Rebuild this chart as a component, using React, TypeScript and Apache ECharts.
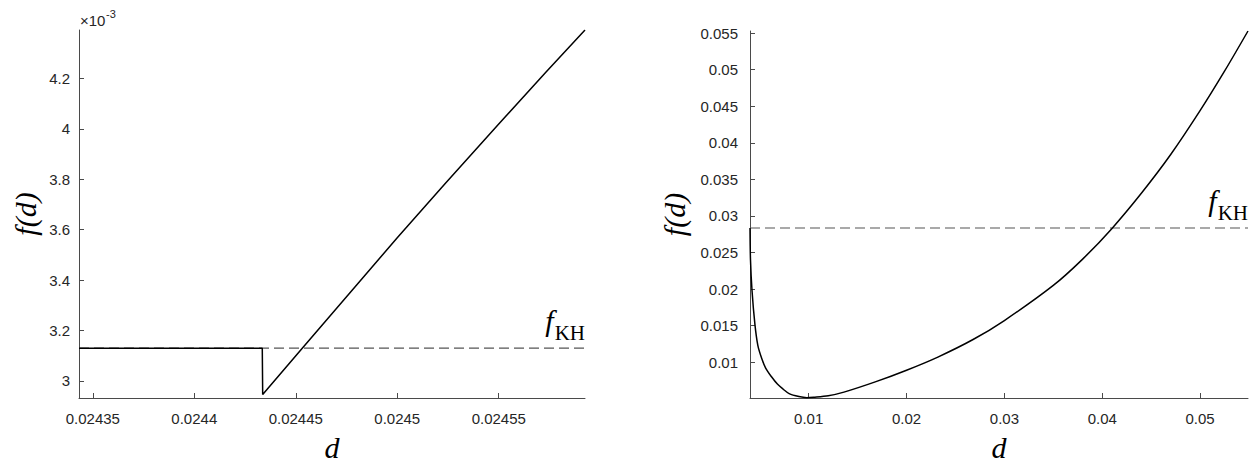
import React, { useEffect, useRef } from "react";
import * as echarts from "echarts";

// ---- Left panel data (f in absolute units; axis shows ×10^-3) ----
const leftD = [0.0243432, 0.0244335, 0.0244337, 0.0244532, 0.0245, 0.0245232, 0.02455, 0.0245732, 0.0245925];
const leftF = [0.00313, 0.00313, 0.002946, 0.00313, 0.003568, 0.003779, 0.004019, 0.004224, 0.004392];
const leftFKH = 0.00313;
const leftXRange = [0.0243432, 0.0245925];
const leftYRange = [0.0029325, 0.004392];
const leftXTicks = [0.02435, 0.0244, 0.02445, 0.0245, 0.02455];
const leftYTicks = [0.003, 0.0032, 0.0034, 0.0036, 0.0038, 0.004, 0.0042];

// ---- Right panel data ----
const rightD = [0.004, 0.00405, 0.0042, 0.0045, 0.0048, 0.0052, 0.0056, 0.0062, 0.0068, 0.0074, 0.008, 0.009, 0.0098, 0.0105, 0.012, 0.0136, 0.0168, 0.02, 0.0232, 0.0268, 0.03, 0.035, 0.038, 0.041, 0.044, 0.047, 0.05, 0.0525, 0.0549];
const rightF = [0.02835, 0.024, 0.0199, 0.0152, 0.0123, 0.0105, 0.0092, 0.008, 0.007, 0.0063, 0.0057, 0.0053, 0.00515, 0.0052, 0.0054, 0.0059, 0.0073, 0.0089, 0.0107, 0.0131, 0.0157, 0.0205, 0.0241, 0.0283, 0.0331, 0.0384, 0.0444, 0.0498, 0.0553];
const rightFKH = 0.02835;
const rightXRange = [0.004, 0.0549];
const rightYRange = [0.0051, 0.0553];
const rightXTicks = [0.01, 0.02, 0.03, 0.04, 0.05];
const rightYTicks = [0.01, 0.015, 0.02, 0.025, 0.03, 0.035, 0.04, 0.045, 0.05, 0.055];

const AXIS_COLOR = "#4a4a4a";
const LABEL_COLOR = "#262626";
const SANS = "Liberation Sans";
const SERIF = "Liberation Serif";

const fmt = (v: number) => String(parseFloat(v.toFixed(8)));
const fmtMilli = (v: number) => String(parseFloat((v * 1000).toFixed(6)));

function xAxisCfg(gridIndex: number, range: number[], ticks: number[]) {
  return {
    type: "value",
    gridIndex,
    min: range[0],
    max: range[1],
    name: "d",
    nameLocation: "middle",
    nameGap: 34,
    nameTextStyle: { fontFamily: SERIF, fontStyle: "italic", fontSize: 30, color: "#000" },
    axisLine: { show: true, lineStyle: { color: AXIS_COLOR, width: 1 } },
    axisTick: { show: true, inside: true, length: 5, customValues: ticks, lineStyle: { color: AXIS_COLOR } },
    axisLabel: {
      show: true,
      customValues: ticks,
      formatter: fmt,
      margin: 13,
      fontFamily: SANS,
      fontSize: 15,
      color: LABEL_COLOR,
    },
    splitLine: { show: false },
  };
}

function yAxisCfg(gridIndex: number, range: number[], ticks: number[], milli: boolean, nameGap: number, margin: number) {
  return {
    type: "value",
    gridIndex,
    min: range[0],
    max: range[1],
    name: "f(d)",
    nameLocation: "middle",
    nameRotate: 90,
    nameGap,
    nameTextStyle: { fontFamily: SERIF, fontStyle: "italic", fontSize: 30, color: "#000" },
    axisLine: { show: true, lineStyle: { color: AXIS_COLOR, width: 1 } },
    axisTick: { show: true, inside: true, length: 5, customValues: ticks, lineStyle: { color: AXIS_COLOR } },
    axisLabel: {
      show: true,
      customValues: ticks,
      formatter: milli ? fmtMilli : fmt,
      margin,
      fontFamily: SANS,
      fontSize: 15,
      color: LABEL_COLOR,
    },
    splitLine: { show: false },
  };
}

function dashedSeries(axisIndex: number, range: number[], fkh: number) {
  return {
    type: "line",
    xAxisIndex: axisIndex,
    yAxisIndex: axisIndex,
    data: [
      [range[0], fkh],
      [range[1], fkh],
    ],
    showSymbol: false,
    silent: true,
    z: 2,
    lineStyle: { type: [10, 5], color: "#555", width: 1.2 },
    markPoint: {
      silent: true,
      symbol: "circle",
      symbolSize: 0,
      data: [{ coord: [range[1], fkh] }],
      label: {
        show: true,
        position: "left",
        distance: 0,
        offset: [0, -24],
        formatter: "{f|f}{s|KH}",
        rich: {
          f: { fontFamily: SERIF, fontStyle: "italic", fontSize: 30, color: "#000", verticalAlign: "bottom", padding: [0, 1, 8, 0] },
          s: { fontFamily: SERIF, fontSize: 21, color: "#000", verticalAlign: "bottom" },
        },
      },
    },
  };
}

export default function App() {
  const ref = useRef<HTMLDivElement>(null);

  useEffect(() => {
    if (!ref.current) return;
    const chart = echarts.init(ref.current, undefined, { renderer: "svg" });
    const option: any = {
      animation: false,
      backgroundColor: "#fff",
      grid: [
        { left: 79, top: 30, width: 506, height: 381, containLabel: false },
        { left: 750, top: 31, width: 498, height: 380, containLabel: false },
      ],
      xAxis: [xAxisCfg(0, leftXRange, leftXTicks), xAxisCfg(1, rightXRange, rightXTicks)],
      yAxis: [
        yAxisCfg(0, leftYRange, leftYTicks, true, 39, 9),
        yAxisCfg(1, rightYRange, rightYTicks, false, 61, 12),
      ],
      graphic: [
        {
          type: "text",
          left: 80,
          top: 13,
          style: { text: "×10", fontFamily: SANS, fontSize: 15, fill: LABEL_COLOR },
        },
        {
          type: "text",
          left: 106,
          top: 8,
          style: { text: "-3", fontFamily: SANS, fontSize: 11, fill: LABEL_COLOR },
        },
      ],
      series: [
        dashedSeries(0, leftXRange, leftFKH),
        {
          type: "line",
          xAxisIndex: 0,
          yAxisIndex: 0,
          data: leftD.map((d, i) => [d, leftF[i]]),
          showSymbol: false,
          z: 5,
          lineStyle: { color: "#000", width: 1.5 },
        },
        dashedSeries(1, rightXRange, rightFKH),
        {
          type: "line",
          xAxisIndex: 1,
          yAxisIndex: 1,
          data: rightD.map((d, i) => [d, rightF[i]]),
          showSymbol: false,
          smooth: 0.3,
          z: 5,
          lineStyle: { color: "#000", width: 1.5 },
        },
      ],
    };
    chart.setOption(option);
    return () => chart.dispose();
  }, []);

  return (
    <div
      ref={ref}
      style={{ position: "fixed", left: 0, top: 0, width: 1254, height: 467, background: "#fff" }}
    />
  );
}
